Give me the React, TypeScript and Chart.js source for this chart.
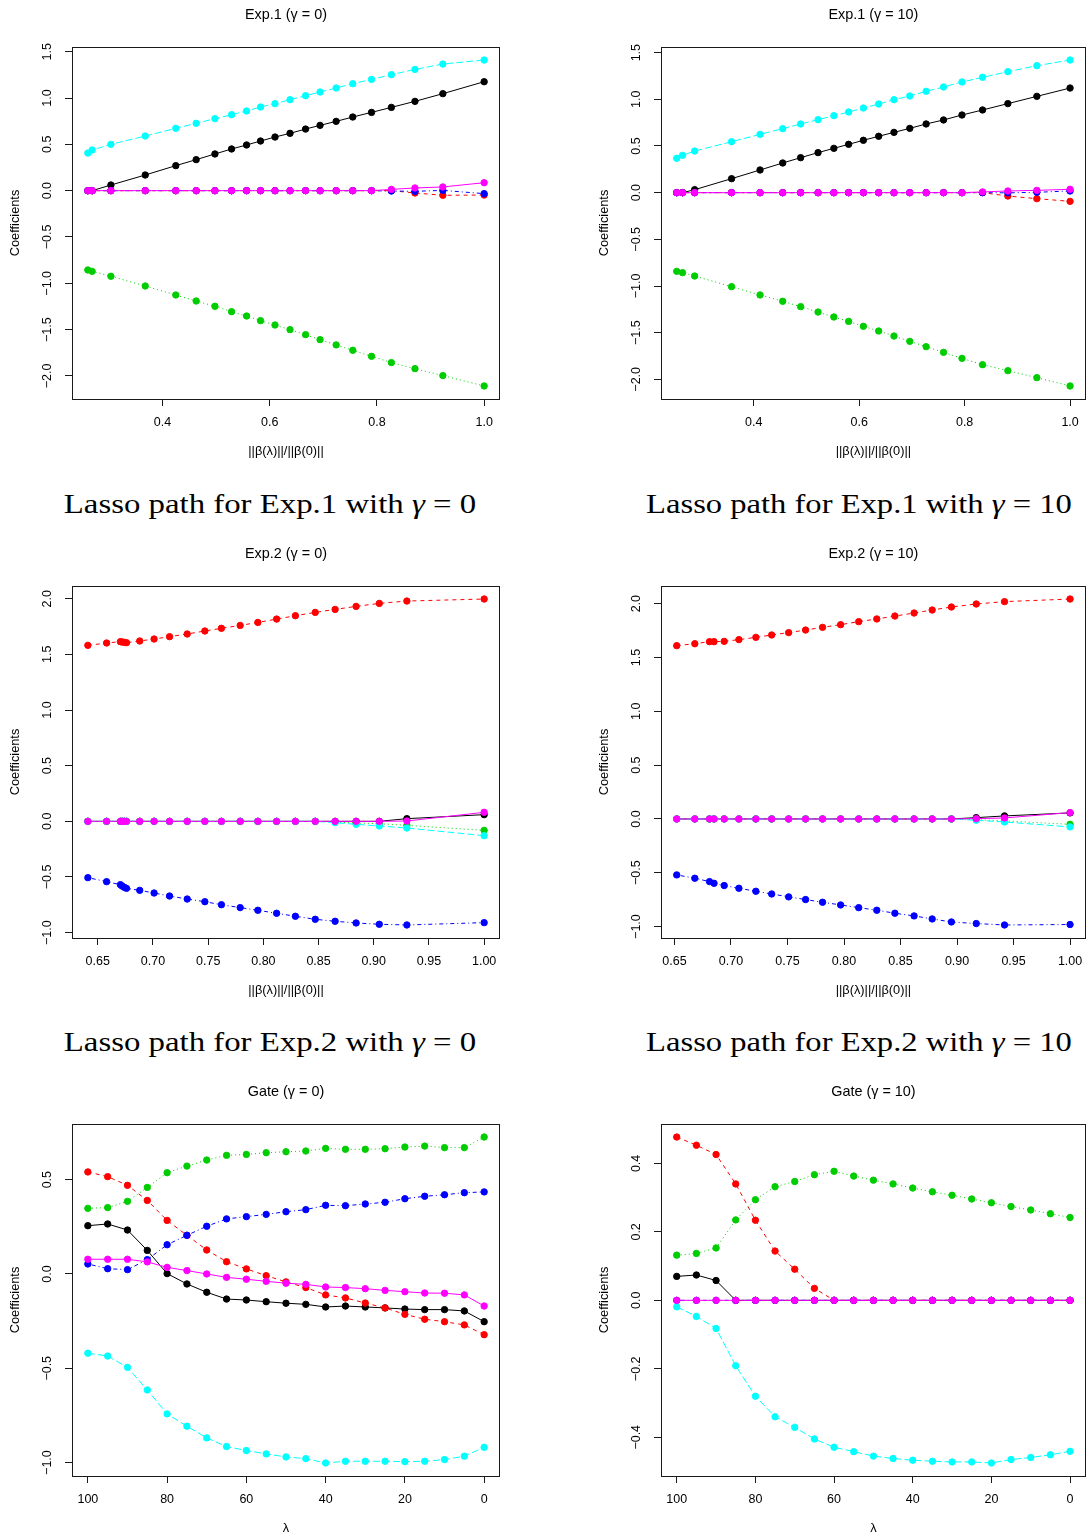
import React, { useEffect, useLayoutEffect, useRef } from "react";
import { Chart, registerables } from "chart.js";

Chart.register(...registerables);

// ---------------- data ----------------
// Exp.1, gamma = 0
const exp1g0X = [0.261, 0.269, 0.304, 0.368, 0.425, 0.463, 0.498, 0.529, 0.557, 0.583, 0.610, 0.638, 0.667, 0.694, 0.724, 0.755, 0.790, 0.827, 0.871, 0.923, 1.0];
const exp1g0Black = [0, 0, 0.061, 0.169, 0.270, 0.335, 0.396, 0.450, 0.493, 0.536, 0.579, 0.619, 0.665, 0.705, 0.748, 0.795, 0.845, 0.899, 0.964, 1.047, 1.176];
const exp1g0Red = [0, 0, 0, 0, 0, 0, 0, 0, 0, 0, 0, 0, 0, 0, 0, 0, 0, 0, -0.025, -0.050, -0.047];
const exp1g0Green = [-0.856, -0.871, -0.924, -1.029, -1.126, -1.191, -1.248, -1.306, -1.353, -1.403, -1.450, -1.500, -1.554, -1.608, -1.665, -1.723, -1.788, -1.856, -1.921, -1.996, -2.108];
const exp1g0Blue = [0, 0, 0, 0, 0, 0, 0, 0, 0, 0, 0, 0, 0, 0, 0, 0, 0, -0.004, -0.007, 0.003, -0.032];
const exp1g0Cyan = [0.406, 0.439, 0.500, 0.590, 0.673, 0.727, 0.777, 0.820, 0.860, 0.903, 0.939, 0.982, 1.025, 1.065, 1.108, 1.155, 1.201, 1.252, 1.309, 1.367, 1.410];
const exp1g0Magenta = [0, 0, 0, 0, 0, 0, 0, 0, 0, 0, 0, 0, 0, 0, 0, 0, 0, 0.014, 0.029, 0.040, 0.086];

// Exp.1, gamma = 10
const exp1g10X = [0.254, 0.265, 0.288, 0.358, 0.412, 0.455, 0.489, 0.522, 0.552, 0.580, 0.608, 0.637, 0.666, 0.696, 0.727, 0.760, 0.795, 0.834, 0.882, 0.937, 1.0];
const exp1g10Black = [0, 0, 0.032, 0.150, 0.243, 0.318, 0.375, 0.429, 0.475, 0.518, 0.561, 0.604, 0.646, 0.689, 0.736, 0.779, 0.832, 0.886, 0.954, 1.032, 1.121];
const exp1g10Red = [0, 0, 0, 0, 0, 0, 0, 0, 0, 0, 0, 0, 0, 0, 0, 0, 0, 0, -0.036, -0.064, -0.093];
const exp1g10Green = [-0.843, -0.857, -0.893, -1.007, -1.096, -1.164, -1.221, -1.279, -1.332, -1.379, -1.432, -1.482, -1.536, -1.593, -1.650, -1.711, -1.775, -1.843, -1.907, -1.982, -2.071];
const exp1g10Blue = [0, 0, 0, 0, 0, 0, 0, 0, 0, 0, 0, 0, 0, 0, 0, 0, 0, 0, -0.002, 0.004, 0.018];
const exp1g10Cyan = [0.368, 0.400, 0.446, 0.546, 0.625, 0.686, 0.736, 0.782, 0.825, 0.864, 0.907, 0.950, 0.996, 1.036, 1.086, 1.132, 1.186, 1.236, 1.296, 1.361, 1.421];
const exp1g10Magenta = [0, 0, 0, 0, 0, 0, 0, 0, 0, 0, 0, 0, 0, 0, 0, 0, 0, 0.008, 0.018, 0.025, 0.036];

// Exp.2, gamma = 0
const exp2g0X = [0.641, 0.658, 0.6705, 0.672, 0.674, 0.676, 0.688, 0.701, 0.715, 0.731, 0.747, 0.762, 0.779, 0.795, 0.812, 0.829, 0.847, 0.865, 0.884, 0.905, 0.930, 1.0];
const exp2g0Black = [0, 0, 0, 0, 0, 0, 0, 0, 0, 0, 0, 0, 0, 0, 0, 0, 0, 0, 0, 0, 0.024, 0.060];
const exp2g0Red = [1.581, 1.602, 1.614, 1.611, 1.608, 1.605, 1.620, 1.638, 1.659, 1.683, 1.710, 1.734, 1.760, 1.787, 1.817, 1.847, 1.877, 1.904, 1.931, 1.958, 1.979, 1.997];
const exp2g0Green = [0, 0, 0, 0, 0, 0, 0, 0, 0, 0, 0, 0, 0, 0, 0, 0, 0, -0.006, -0.015, -0.021, -0.036, -0.081];
const exp2g0Blue = [-0.506, -0.542, -0.569, -0.581, -0.593, -0.602, -0.620, -0.644, -0.671, -0.698, -0.722, -0.749, -0.775, -0.799, -0.826, -0.853, -0.880, -0.898, -0.913, -0.925, -0.931, -0.910];
const exp2g0Cyan = [0, 0, 0, 0, 0, 0, 0, 0, 0, 0, 0, 0, 0, 0, 0, 0, 0, -0.012, -0.027, -0.042, -0.060, -0.129];
const exp2g0Magenta = [0, 0, 0, 0, 0, 0, 0, 0, 0, 0, 0, 0, 0, 0, 0, 0, 0, 0, 0, 0, 0.003, 0.081];

// Exp.2, gamma = 10
const exp2g10X = [0.652, 0.668, 0.681, 0.685, 0.694, 0.707, 0.722, 0.736, 0.751, 0.766, 0.781, 0.797, 0.813, 0.829, 0.845, 0.862, 0.878, 0.895, 0.917, 0.942, 1.0];
const exp2g10Black = [0, 0, 0, 0, 0, 0, 0, 0, 0, 0, 0, 0, 0, 0, 0, 0, 0, 0, 0.012, 0.028, 0.056];
const exp2g10Red = [1.610, 1.628, 1.647, 1.647, 1.650, 1.666, 1.687, 1.709, 1.731, 1.755, 1.780, 1.805, 1.833, 1.858, 1.885, 1.913, 1.941, 1.969, 1.997, 2.019, 2.043];
const exp2g10Green = [0, 0, 0, 0, 0, 0, 0, 0, 0, 0, 0, 0, 0, 0, 0, 0, 0, 0, -0.006, -0.019, -0.050];
const exp2g10Blue = [-0.520, -0.551, -0.582, -0.598, -0.619, -0.644, -0.672, -0.697, -0.724, -0.749, -0.774, -0.799, -0.824, -0.848, -0.876, -0.901, -0.929, -0.957, -0.972, -0.985, -0.981];
const exp2g10Cyan = [0, 0, 0, 0, 0, 0, 0, 0, 0, 0, 0, 0, 0, 0, 0, 0, 0, 0, -0.012, -0.028, -0.074];
const exp2g10Magenta = [0, 0, 0, 0, 0, 0, 0, 0, 0, 0, 0, 0, 0, 0, 0, 0, 0, 0, 0.003, 0.009, 0.059];

// Gate (lambda path)
const lambdas = [100, 95, 90, 85, 80, 75, 70, 65, 60, 55, 50, 45, 40, 35, 30, 25, 20, 15, 10, 5, 0];

const gateG0Black = [0.256, 0.265, 0.233, 0.125, 0.002, -0.053, -0.097, -0.133, -0.138, -0.147, -0.155, -0.161, -0.175, -0.170, -0.175, -0.180, -0.186, -0.189, -0.189, -0.196, -0.253];
const gateG0Red = [0.541, 0.516, 0.470, 0.390, 0.284, 0.205, 0.127, 0.065, 0.027, -0.009, -0.042, -0.072, -0.111, -0.127, -0.154, -0.180, -0.214, -0.240, -0.253, -0.270, -0.322];
const gateG0Green = [0.348, 0.352, 0.385, 0.459, 0.537, 0.572, 0.604, 0.629, 0.634, 0.643, 0.648, 0.652, 0.666, 0.661, 0.661, 0.664, 0.673, 0.678, 0.670, 0.670, 0.726];
const gateG0Blue = [0.053, 0.028, 0.023, 0.076, 0.155, 0.205, 0.253, 0.292, 0.304, 0.316, 0.330, 0.341, 0.364, 0.362, 0.371, 0.380, 0.399, 0.412, 0.420, 0.431, 0.435];
const gateG0Cyan = [-0.420, -0.435, -0.495, -0.615, -0.742, -0.807, -0.869, -0.915, -0.936, -0.954, -0.970, -0.979, -1.002, -0.993, -0.993, -0.993, -0.995, -0.993, -0.984, -0.966, -0.919];
const gateG0Magenta = [0.078, 0.078, 0.078, 0.064, 0.035, 0.018, 0.0, -0.018, -0.028, -0.039, -0.049, -0.055, -0.069, -0.072, -0.078, -0.087, -0.094, -0.101, -0.102, -0.111, -0.170];

const gateG10Black = [0.070, 0.074, 0.058, 0, 0, 0, 0, 0, 0, 0, 0, 0, 0, 0, 0, 0, 0, 0, 0, 0, 0];
const gateG10Red = [0.477, 0.453, 0.426, 0.340, 0.234, 0.144, 0.091, 0.035, 0, 0, 0, 0, 0, 0, 0, 0, 0, 0, 0, 0, 0];
const gateG10Green = [0.132, 0.137, 0.153, 0.235, 0.294, 0.332, 0.347, 0.367, 0.377, 0.363, 0.351, 0.340, 0.328, 0.317, 0.307, 0.296, 0.285, 0.274, 0.264, 0.253, 0.242];
const gateG10Blue = [0, 0, 0, 0, 0, 0, 0, 0, 0, 0, 0, 0, 0, 0, 0, 0, 0, 0, 0, 0, 0];
const gateG10Cyan = [-0.019, -0.047, -0.082, -0.191, -0.280, -0.340, -0.371, -0.405, -0.429, -0.442, -0.455, -0.462, -0.467, -0.470, -0.472, -0.472, -0.475, -0.465, -0.459, -0.451, -0.441];
const gateG10Magenta = [0, 0, 0, 0, 0, 0, 0, 0, 0, 0, 0, 0, 0, 0, 0, 0, 0, 0, 0, 0, 0];

// tick labels
const ticksExp1X = [0.4, 0.6, 0.8, 1.0];
const ticksExp1Y = [-2.0, -1.5, -1.0, -0.5, 0.0, 0.5, 1.0, 1.5];
const ticksExp2X = [0.65, 0.70, 0.75, 0.80, 0.85, 0.90, 0.95, 1.00];
const ticksExp2Y = [-1.0, -0.5, 0.0, 0.5, 1.0, 1.5, 2.0];
const ticksGateX = [100, 80, 60, 40, 20, 0];
const ticksGateG0Y = [-1.0, -0.5, 0.0, 0.5];
const ticksGateG10Y = [-0.4, -0.2, 0.0, 0.2, 0.4];

// titles
const panelTitles = ["Exp.1 (γ = 0)", "Exp.1 (γ = 10)", "Exp.2 (γ = 0)", "Exp.2 (γ = 10)", "Gate (γ = 0)", "Gate (γ = 10)"];
const normLabel = "||β(λ)||/||β(0)||";
const lambdaLabel = "λ";
const captionTexts = [
  ["Lasso path for Exp.1 with ", "γ", " = 0"],
  ["Lasso path for Exp.1 with ", "γ", " = 10"],
  ["Lasso path for Exp.2 with ", "γ", " = 0"],
  ["Lasso path for Exp.2 with ", "γ", " = 10"],
];

// ---------------- styles ----------------
// R palette 1..6 with matplot's default lty = 1:5 (recycled, so the 6th is solid)
const COLORS = ["#000000", "#FF0000", "#00CD00", "#0000FF", "#00FFFF", "#FF00FF"];
const DASHES = [[], [4, 4], [1, 3], [1, 3, 4, 3], [7, 3], []];
const SANS = "'Liberation Sans', Arial, Helvetica, sans-serif";
const CANVAS_W = 545;
const CANVAS_H = 470;
const BOX_W = 428;
const BOX_TOP = 47;
const BOX_H = 352;

type PanelSpec = {
  title: string;
  xTitle: string;
  xs: number[];
  series: number[][];
  xTicks: number[];
  yTicks: number[];
  xDec: number;
  yDec: number;
  reverse: boolean;
  left: number;
  top: number;
  boxLeft: number;
};

function fmt(v: number, dec: number): string {
  const s = Math.abs(v).toFixed(dec);
  return v < -1e-9 ? "\u2212" + s : s;
}

const decorPlugin = {
  id: "rDecor",
  afterDraw(chart: any, _args: any, opts: any) {
    const { ctx, chartArea: a } = chart;
    ctx.save();
    ctx.strokeStyle = "#1a1a1a";
    ctx.lineWidth = 1;
    ctx.setLineDash([]);
    ctx.strokeRect(Math.round(a.left) + 0.5, Math.round(a.top) + 0.5, Math.round(a.right - a.left) - 1, Math.round(a.bottom - a.top));
    const ys = chart.scales.y;
    ctx.fillStyle = "#000";
    ctx.font = `12.5px ${SANS}`;
    ctx.textAlign = "center";
    ctx.textBaseline = "middle";
    for (const t of ys.ticks) {
      const py = ys.getPixelForValue(t.value);
      ctx.save();
      ctx.translate(a.left - 24, py);
      ctx.rotate(-Math.PI / 2);
      ctx.fillText(fmt(t.value, opts.yDec), 0, 0);
      ctx.restore();
    }
    ctx.restore();
  },
};

function Panel({ spec }: { spec: PanelSpec }) {
  const ref = useRef<HTMLCanvasElement>(null);
  useEffect(() => {
    const canvas = ref.current;
    if (!canvas) return;
    const allY = spec.series.reduce((acc: number[], s) => acc.concat(s), []);
    const ymin = Math.min(...allY);
    const ymax = Math.max(...allY);
    const yPad = (ymax - ymin) * 0.04;
    const xmin = Math.min(...spec.xs);
    const xmax = Math.max(...spec.xs);
    const xPad = (xmax - xmin) * 0.04;
    const labelFont = { family: SANS, size: 12.8, lineHeight: 1.2 };
    const chart = new Chart(canvas, {
      type: "line",
      data: {
        datasets: spec.series.map((ys, i) => ({
          data: ys.map((y, j) => ({ x: spec.xs[j], y })),
          borderColor: COLORS[i],
          backgroundColor: COLORS[i],
          borderWidth: 1,
          borderDash: DASHES[i],
          pointRadius: 3.2,
          pointBorderWidth: 1,
          pointBorderColor: COLORS[i],
          pointBackgroundColor: COLORS[i],
          pointHoverRadius: 3.2,
          fill: false,
          tension: 0,
          order: 5 - i,
        })),
      },
      options: {
        responsive: false,
        maintainAspectRatio: false,
        animation: false,
        events: [],
        devicePixelRatio: 1,
        layout: { padding: { left: 0, right: CANVAS_W - spec.boxLeft - BOX_W, top: 0, bottom: 0 } },
        plugins: {
          legend: { display: false },
          tooltip: { enabled: false },
          title: {
            display: true,
            text: spec.title,
            fullSize: false,
            color: "#000",
            font: { family: SANS, size: 14.4, weight: "normal", lineHeight: 1.2 },
            padding: { top: 6.4, bottom: BOX_TOP - 6.4 - 14.4 * 1.2 },
          },
          rDecor: { yDec: spec.yDec },
        } as any,
        scales: {
          x: {
            type: "linear",
            position: "bottom",
            min: xmin - xPad,
            max: xmax + xPad,
            reverse: spec.reverse,
            afterBuildTicks: (s: any) => {
              s.ticks = spec.xTicks.map((v) => ({ value: v }));
            },
            afterFit: (s: any) => {
              s.height = CANVAS_H - BOX_TOP - BOX_H;
            },
            grid: { display: true, drawOnChartArea: false, drawTicks: true, tickLength: 7, color: "#1a1a1a", lineWidth: 1 },
            border: { display: false },
            ticks: {
              display: true,
              autoSkip: false,
              maxRotation: 0,
              minRotation: 0,
              padding: 0,
              color: "#000",
              font: { family: SANS, size: 12.5, lineHeight: 33.4 / 12.5 },
              callback: (v: any) => fmt(Number(v), spec.xDec),
            },
            title: {
              display: true,
              text: spec.xTitle,
              color: "#000",
              font: labelFont,
              padding: { top: 0, bottom: 19 - 12.8 * 0.6 },
            },
          },
          y: {
            type: "linear",
            position: "left",
            min: ymin - yPad,
            max: ymax + yPad,
            afterBuildTicks: (s: any) => {
              s.ticks = spec.yTicks.map((v) => ({ value: v }));
            },
            afterFit: (s: any) => {
              s.width = spec.boxLeft;
            },
            grid: { display: true, drawOnChartArea: false, drawTicks: true, tickLength: 7, color: "#1a1a1a", lineWidth: 1 },
            border: { display: false },
            ticks: { display: false },
            title: {
              display: true,
              text: "Coefficients",
              color: "#000",
              font: labelFont,
              padding: { top: spec.boxLeft - 57 - 12.8 * 0.6, bottom: 0 },
            },
          },
        },
      } as any,
      plugins: [decorPlugin],
    });
    return () => chart.destroy();
  }, [spec]);
  return (
    <canvas
      ref={ref}
      width={CANVAS_W}
      height={CANVAS_H}
      style={{ position: "absolute", left: spec.left, top: spec.top, width: CANVAS_W, height: CANVAS_H }}
    />
  );
}

function Caption({ parts, cx, cy, target }: { parts: string[]; cx: number; cy: number; target: number }) {
  const ref = useRef<HTMLDivElement>(null);
  useLayoutEffect(() => {
    const el = ref.current;
    if (!el) return;
    const w = el.offsetWidth;
    const k = w > 0 ? target / w : 1;
    el.style.transform = `translate(-50%, -50%) scaleX(${k})`;
  }, [target]);
  return (
    <div
      ref={ref}
      style={{
        position: "absolute",
        left: cx,
        top: cy,
        transform: "translate(-50%, -50%)",
        transformOrigin: "50% 50%",
        whiteSpace: "nowrap",
        fontFamily: "'Liberation Serif', 'Times New Roman', serif",
        fontSize: 27,
        lineHeight: "27px",
        color: "#000",
      }}
    >
      {parts[0]}
      <i>{parts[1]}</i>
      {parts[2]}
    </div>
  );
}

const ROW_TOPS = [0, 539, 1077];
const LEFT_BOX = 72;
const RIGHT_BOX = 116;

const PANELS: PanelSpec[] = [
  {
    title: panelTitles[0], xTitle: normLabel, xs: exp1g0X,
    series: [exp1g0Black, exp1g0Red, exp1g0Green, exp1g0Blue, exp1g0Cyan, exp1g0Magenta],
    xTicks: ticksExp1X, yTicks: ticksExp1Y, xDec: 1, yDec: 1, reverse: false,
    left: 0, top: ROW_TOPS[0], boxLeft: LEFT_BOX,
  },
  {
    title: panelTitles[1], xTitle: normLabel, xs: exp1g10X,
    series: [exp1g10Black, exp1g10Red, exp1g10Green, exp1g10Blue, exp1g10Cyan, exp1g10Magenta],
    xTicks: ticksExp1X, yTicks: ticksExp1Y, xDec: 1, yDec: 1, reverse: false,
    left: 545, top: ROW_TOPS[0], boxLeft: RIGHT_BOX,
  },
  {
    title: panelTitles[2], xTitle: normLabel, xs: exp2g0X,
    series: [exp2g0Black, exp2g0Red, exp2g0Green, exp2g0Blue, exp2g0Cyan, exp2g0Magenta],
    xTicks: ticksExp2X, yTicks: ticksExp2Y, xDec: 2, yDec: 1, reverse: false,
    left: 0, top: ROW_TOPS[1], boxLeft: LEFT_BOX,
  },
  {
    title: panelTitles[3], xTitle: normLabel, xs: exp2g10X,
    series: [exp2g10Black, exp2g10Red, exp2g10Green, exp2g10Blue, exp2g10Cyan, exp2g10Magenta],
    xTicks: ticksExp2X, yTicks: ticksExp2Y, xDec: 2, yDec: 1, reverse: false,
    left: 545, top: ROW_TOPS[1], boxLeft: RIGHT_BOX,
  },
  {
    title: panelTitles[4], xTitle: lambdaLabel, xs: lambdas,
    series: [gateG0Black, gateG0Red, gateG0Green, gateG0Blue, gateG0Cyan, gateG0Magenta],
    xTicks: ticksGateX, yTicks: ticksGateG0Y, xDec: 0, yDec: 1, reverse: true,
    left: 0, top: ROW_TOPS[2], boxLeft: LEFT_BOX,
  },
  {
    title: panelTitles[5], xTitle: lambdaLabel, xs: lambdas,
    series: [gateG10Black, gateG10Red, gateG10Green, gateG10Blue, gateG10Cyan, gateG10Magenta],
    xTicks: ticksGateX, yTicks: ticksGateG10Y, xDec: 0, yDec: 1, reverse: true,
    left: 545, top: ROW_TOPS[2], boxLeft: RIGHT_BOX,
  },
];

export default function App() {
  return (
    <div
      style={{
        position: "absolute",
        left: 0,
        top: 0,
        width: 1090,
        height: 1538,
        overflow: "hidden",
        background: "#fff",
      }}
    >
      {PANELS.map((p, i) => (
        <Panel key={i} spec={p} />
      ))}
      <Caption parts={captionTexts[0]} cx={270} cy={504} target={412} />
      <Caption parts={captionTexts[1]} cx={859} cy={504} target={426} />
      <Caption parts={captionTexts[2]} cx={270} cy={1042} target={412} />
      <Caption parts={captionTexts[3]} cx={859} cy={1042} target={426} />
    </div>
  );
}
